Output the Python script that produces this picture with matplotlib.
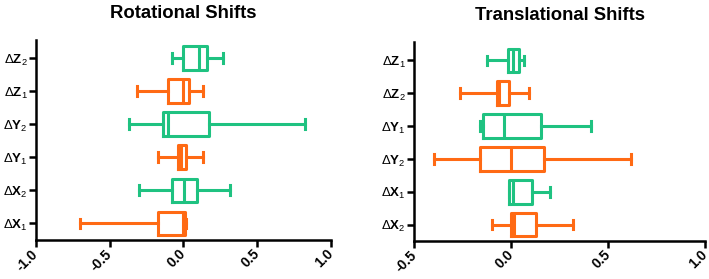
import numpy as np
import matplotlib.pyplot as plt
import matplotlib.transforms as mtransforms

GREEN = "#1FC281"
ORANGE = "#FF6A14"

plt.rcParams['font.family'] = ['Liberation Sans', 'DejaVu Sans']
plt.rcParams['mathtext.fontset'] = 'custom'
plt.rcParams['mathtext.rm'] = 'Liberation Sans'
plt.rcParams['mathtext.bf'] = 'Liberation Sans:bold'
plt.rcParams['mathtext.it'] = 'Liberation Sans:italic'

# rotational shifts, listed bottom to top
rot_labels = ["X_1", "X_2", "Y_1", "Y_2", "Z_1", "Z_2"]
rot_colors = [ORANGE, GREEN, ORANGE, GREEN, ORANGE, GREEN]
rot_lo = [-0.704, -0.301, -0.170, -0.367, -0.312, -0.079]
rot_q1 = [-0.174, -0.077, -0.036, -0.138, -0.104, 0.000]
rot_med = [0.000, 0.007, -0.016, -0.104, 0.000, 0.104]
rot_q3 = [0.009, 0.095, 0.016, 0.172, 0.041, 0.158]
rot_hi = [0.016, 0.319, 0.131, 0.828, 0.131, 0.269]

# translational shifts, listed bottom to top
tra_labels = ["X_2", "X_1", "Y_2", "Y_1", "Z_2", "Z_1"]
tra_colors = [ORANGE, GREEN, ORANGE, GREEN, ORANGE, GREEN]
tra_lo = [-0.099, -0.014, -0.401, -0.159, -0.262, -0.127]
tra_q1 = [0.000, -0.010, -0.161, -0.146, -0.072, -0.019]
tra_med = [0.012, 0.007, 0.000, -0.039, -0.062, 0.007]
tra_q3 = [0.127, 0.106, 0.170, 0.156, -0.010, 0.038]
tra_hi = [0.317, 0.199, 0.616, 0.414, 0.092, 0.067]


def panel(ax, title, labels, colors, lo, q1, med, q3, hi, xlim, xticks):
    for i in range(len(labels)):
        st = [dict(whislo=lo[i], q1=q1[i], med=med[i], q3=q3[i], whishi=hi[i])]
        c = colors[i]
        ax.bxp(st, positions=[i], vert=False, widths=0.72, showfliers=False,
               patch_artist=False,
               boxprops=dict(color=c, linewidth=2.2),
               medianprops=dict(color=c, linewidth=2.2),
               whiskerprops=dict(color=c, linewidth=2.2),
               capprops=dict(color=c, linewidth=2.2),
               capwidths=0.3)
    ax.set_yticks(range(len(labels)))
    ax.set_yticklabels([r"$\Delta\mathbf{%s}_{%s}$" % tuple(l.split("_")) for l in labels],
                       fontsize=9.5)
    ax.set_ylim(-0.5, 5.55)
    ax.set_xlim(*xlim)
    ax.set_xticks(xticks)
    ax.set_xticklabels(["%.1f" % t for t in xticks], rotation=45, ha='right', va='center',
                       rotation_mode='anchor', fontweight='bold', fontsize=10)
    shift = mtransforms.ScaledTranslation(-2 / 72, -3 / 72, ax.figure.dpi_scale_trans)
    for lab in ax.get_xticklabels():
        lab.set_transform(lab.get_transform() + shift)
    ax.spines['top'].set_visible(False)
    ax.spines['right'].set_visible(False)
    ax.spines['left'].set_linewidth(1.8)
    ax.spines['bottom'].set_linewidth(1.8)
    ax.tick_params(width=1.8, length=5)
    ax.tick_params(axis='y', pad=1)
    ax.set_title(title, fontweight='bold', fontsize=13.3, pad=16)


fig = plt.figure(figsize=(7.09, 2.79), dpi=100)
ax1 = fig.add_axes([0.0508, 0.1398, 0.4156, 0.7168])
ax2 = fig.add_axes([0.5844, 0.1363, 0.41, 0.7117])

panel(ax1, "Rotational Shifts", rot_labels, rot_colors, rot_lo, rot_q1, rot_med,
      rot_q3, rot_hi, (-1.0, 1.0), [-1.0, -0.5, 0.0, 0.5, 1.0])
panel(ax2, "Translational Shifts", tra_labels, tra_colors, tra_lo, tra_q1, tra_med,
      tra_q3, tra_hi, (-0.5, 1.0), [-0.5, 0.0, 0.5, 1.0])

fig.savefig("out.png", dpi=100)
